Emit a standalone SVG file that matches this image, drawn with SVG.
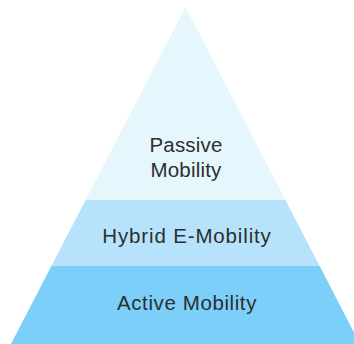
<svg xmlns="http://www.w3.org/2000/svg" width="354" height="344" viewBox="0 0 354 344">
  <style>
    .label { font-family: "Liberation Sans", Arial, sans-serif; font-size: 20.5px; fill: #2e2e2e; text-anchor: middle; }
    .tier-top { fill: #e6f6fd; }
    .tier-mid { fill: #b6e2fb; }
    .tier-base { fill: #7bcff8; }
  </style>
  <rect width="354" height="344" fill="#ffffff"/>
  <g id="passive-mobility">
    <polygon class="tier-top" points="185.5,7 285.4,200 85.6,200"/>
    <text class="label" x="186" y="152" letter-spacing="0.2">Passive</text>
    <text class="label" x="186" y="177" letter-spacing="0.2">Mobility</text>
  </g>
  <g id="hybrid-e-mobility">
    <polygon class="tier-mid" points="85.6,200 285.4,200 319.5,265.7 51.5,265.7"/>
    <text class="label" x="187" y="243" letter-spacing="0.85">Hybrid E-Mobility</text>
  </g>
  <g id="active-mobility">
    <polygon class="tier-base" points="51.5,265.7 319.5,265.7 360,344 11,344"/>
    <text class="label" x="187" y="310" letter-spacing="0.6">Active Mobility</text>
  </g>
  <g id="connectors"/>
</svg>
